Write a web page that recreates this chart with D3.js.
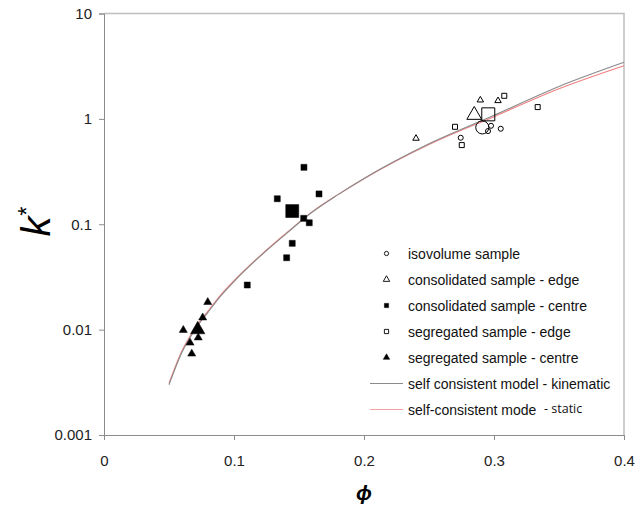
<!DOCTYPE html>
<html>
<head>
<meta charset="utf-8">
<script src="https://cdn.jsdelivr.net/npm/d3@7"></script>
<style>
  body { margin: 0; background: #fff; }
  svg { display: block; font-family: "Liberation Sans", Arial, sans-serif; }
</style>
</head>
<body>
<svg id="chart" width="640" height="509"></svg>
<script>
// ---- data ----
const isoPhi = [0.2744, 0.2977, 0.3052, 0.2954];
const isoK   = [0.662, 0.860, 0.806, 0.766];
const isoMean = [0.291, 0.830];

const consEdgePhi = [0.240, 0.2895, 0.3031];
const consEdgeK   = [0.653, 1.507, 1.486];
const consEdgeMean = [0.2848, 1.087];

const consCentrePhi = [0.1538, 0.1654, 0.1333, 0.1536, 0.1579, 0.1448, 0.1405, 0.1102];
const consCentreK   = [0.347, 0.194, 0.1746, 0.1138, 0.1033, 0.0659, 0.0481, 0.0265];
const consCentreMean = [0.1448, 0.1334];

const segEdgePhi = [0.3079, 0.3336, 0.2700, 0.2752];
const segEdgeK   = [1.656, 1.294, 0.841, 0.564];
const segEdgeMean = [0.2956, 1.104];

const segCentrePhi = [0.0798, 0.0759, 0.0610, 0.0725, 0.0662, 0.0675];
const segCentreK   = [0.0182, 0.0130, 0.0099, 0.0084, 0.0075, 0.0059];
const segCentreMean = [0.0721, 0.0100];

// self consistent model curves
const modelPhi = [0.05, 0.06, 0.07, 0.08, 0.09, 0.10, 0.12, 0.14, 0.16, 0.18, 0.20, 0.25, 0.30, 0.35, 0.40];
const kinematicK = [0.0030, 0.0061, 0.0100, 0.0146, 0.0210, 0.0286, 0.0495, 0.081, 0.130, 0.191, 0.272, 0.58, 1.08, 2.03, 3.44];
const staticK    = [0.0031, 0.0063, 0.0103, 0.0150, 0.0215, 0.0292, 0.0502, 0.082, 0.131, 0.191, 0.270, 0.57, 1.05, 1.93, 3.19];

const xTicks = [0, 0.1, 0.2, 0.3, 0.4];
const yTicks = [0.001, 0.01, 0.1, 1, 10];

const legendLabels = [
  "isovolume sample",
  "consolidated sample - edge",
  "consolidated sample - centre",
  "segregated sample - edge",
  "segregated sample - centre",
  "self consistent model - kinematic",
  "self-consistent mode"
];

// ---- layout ----
const plotLeft = 104, plotRight = 624, plotTop = 13.5, plotBottom = 435;
const svg = d3.select("#chart");

const x = d3.scaleLinear().domain([0, 0.4]).range([plotLeft, plotRight]);
const y = d3.scaleLog().domain([0.001, 10]).range([plotBottom, plotTop]);

// plot frame (top + right)
svg.append("path")
  .attr("d", `M${plotLeft},${plotTop}H${plotRight}V${plotBottom}`)
  .attr("fill", "none")
  .attr("stroke", "#bdbdbd")
  .attr("stroke-width", 1.5);

// axes
const xAxis = svg.append("g")
  .attr("transform", `translate(0,${plotBottom})`)
  .call(d3.axisBottom(x).tickValues(xTicks).tickSize(5).tickSizeOuter(5)
        .tickFormat(d => d === 0 ? "0" : d3.format(".1f")(d)));
const yAxis = svg.append("g")
  .attr("transform", `translate(${plotLeft},0)`)
  .call(d3.axisLeft(y).tickValues(yTicks).tickSize(5).tickSizeOuter(5)
        .tickFormat(d => String(+d.toPrecision(1))));

[xAxis, yAxis].forEach(g => {
  g.select(".domain").attr("stroke", "#8c8c8c");
  g.selectAll(".tick line").attr("stroke", "#8c8c8c");
  g.selectAll(".tick text")
    .attr("fill", "#222")
    .style("font-size", "15px")
    .style("font-family", "'Liberation Sans', Arial, sans-serif");
});
xAxis.selectAll(".tick text").attr("dy", "1.55em");
yAxis.selectAll(".tick text").attr("x", -12);

// axis titles
svg.append("text")
  .attr("x", (plotLeft + plotRight) / 2)
  .attr("y", 500)
  .attr("text-anchor", "middle")
  .style("font-size", "21px")
  .style("font-style", "italic")
  .style("font-weight", "bold")
  .text("\u03d5");

const yTitle = svg.append("text")
  .attr("transform", `translate(50,222) rotate(-90)`)
  .attr("text-anchor", "middle")
  .style("font-size", "40px")
  .style("font-style", "italic");
yTitle.append("tspan").text("k");
yTitle.append("tspan").attr("dy", -15).style("font-size", "23px").text("*");

// model curves
const line = d3.line()
  .x(d => x(d[0]))
  .y(d => y(d[1]))
  .curve(d3.curveMonotoneX);

svg.append("path")
  .datum(modelPhi.map((p, i) => [p, staticK[i]]))
  .attr("d", line)
  .attr("fill", "none")
  .attr("stroke", "#f08080")
  .attr("stroke-width", 1.1);

svg.append("path")
  .datum(modelPhi.map((p, i) => [p, kinematicK[i]]))
  .attr("d", line)
  .attr("fill", "none")
  .attr("stroke", "#8a8a8a")
  .attr("stroke-width", 1.1);

// markers
const series = [
  { phi: isoPhi, k: isoK, mean: isoMean, type: d3.symbolCircle, fill: "none", small: 20, big: 135 },
  { phi: consEdgePhi, k: consEdgeK, mean: consEdgeMean, type: d3.symbolTriangle, fill: "none", small: 18, big: 95 },
  { phi: consCentrePhi, k: consCentreK, mean: consCentreMean, type: d3.symbolSquare, fill: "#000", small: 36, big: 169 },
  { phi: segEdgePhi, k: segEdgeK, mean: segEdgeMean, type: d3.symbolSquare, fill: "none", small: 25, big: 169 },
  { phi: segCentrePhi, k: segCentreK, mean: segCentreMean, type: d3.symbolTriangle, fill: "#000", small: 28, big: 90 }
];

series.forEach(s => {
  const g = svg.append("g");
  const pts = s.phi.map((p, i) => [p, s.k[i], s.small]);
  pts.push([s.mean[0], s.mean[1], s.big]);
  g.selectAll("path")
    .data(pts)
    .join("path")
    .attr("transform", d => `translate(${x(d[0])},${y(d[1])})`)
    .attr("d", d => d3.symbol().type(s.type).size(d[2])())
    .attr("fill", s.fill === "none" ? "#fff" : s.fill)
    .attr("fill-opacity", s.fill === "none" ? 0 : 1)
    .attr("stroke", "#000")
    .attr("stroke-width", s.fill === "none" ? 1 : 0.5);
});

// legend
const legend = svg.append("g");
const legendY = d3.range(legendLabels.length).map(i => 253.5 + i * 26);
legendLabels.forEach((label, i) => {
  const ly = legendY[i];
  if (i < 5) {
    const s = series[i];
    legend.append("path")
      .attr("transform", `translate(386.5,${ly})`)
      .attr("d", d3.symbol().type(s.type).size(s.type === d3.symbolCircle ? 14 : 18)())
      .attr("fill", s.fill === "none" ? "#fff" : "#000")
      .attr("stroke", "#000")
      .attr("stroke-width", s.fill === "none" ? 0.9 : 0.5);
  } else {
    legend.append("line")
      .attr("x1", 370).attr("x2", 403)
      .attr("y1", ly).attr("y2", ly)
      .attr("stroke", i === 5 ? "#8a8a8a" : "#f4a0a0")
      .attr("stroke-width", 1);
  }
  legend.append("text")
    .attr("x", 408)
    .attr("y", ly + 5)
    .attr("fill", "#111")
    .style("font-size", "14px")
    .text(label);
});
legend.append("text")
  .attr("x", 544)
  .attr("y", legendY[6] + 3)
  .attr("fill", "#111")
  .style("font-size", "12.5px")
  .style("font-family", "'Open Sans', sans-serif")
  .text("- static");
</script>
</body>
</html>
